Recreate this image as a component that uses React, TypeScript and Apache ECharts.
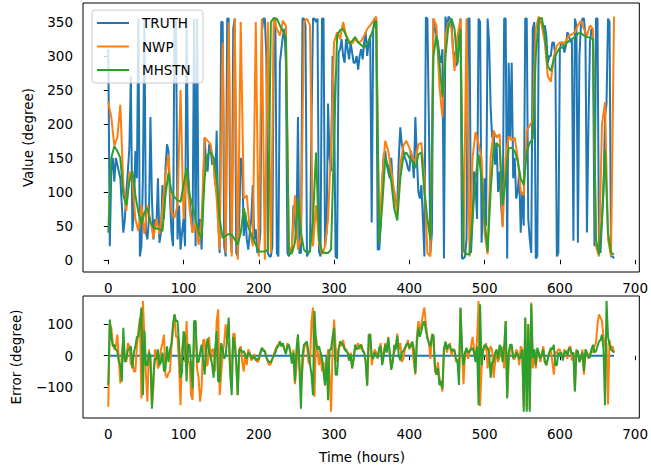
import React, { useEffect, useRef } from "react";
import * as echarts from "echarts";

// time grids (hours)
const hours2 = Array.from({ length: 337 }, (_, i) => i * 2); // truth and errors
const hours4 = Array.from({ length: 169 }, (_, i) => i * 4); // forecasts

const truth = [
  310, 20, 130, 150, 115, 150, 140, 130, 120, 80, 40, 60, 100, 130, 165, 270, 42, 70, 160, 120,
  355, 5, 20, 120, 355, 40, 30, 60, 210, 90, 30, 60, 50, 120, 25, 40, 110, 60, 135, 170,
  160, 90, 40, 20, 355, 350, 30, 80, 15, 40, 60, 20, 355, 130, 90, 60, 40, 355, 20, 355,
  30, 60, 15, 100, 180, 140, 130, 170, 165, 140, 150, 110, 190, 60, 10, 350, 350, 20, 5, 355,
  355, 40, 10, 340, 355, 10, 5, 60, 150, 140, 35, 70, 30, 15, 40, 60, 110, 30, 45, 10,
  15, 40, 334, 355, 355, 300, 10, 5, 5, 20, 350, 355, 10, 5, 290, 310, 330, 340, 290, 10,
  5, 15, 12, 80, 55, 30, 210, 10, 10, 355, 355, 345, 5, 10, 15, 200, 355, 355, 350, 355,
  12, 5, 355, 355, 20, 40, 230, 150, 130, 300, 240, 5, 2, 305, 310, 325, 300, 290, 325, 310,
  295, 320, 305, 290, 290, 300, 280, 300, 310, 295, 320, 335, 300, 320, 330, 55, 340, 355, 355, 15,
  15, 50, 115, 155, 160, 140, 130, 120, 150, 110, 100, 80, 85, 150, 195, 170, 160, 150, 145, 135,
  130, 160, 150, 120, 210, 150, 100, 90, 110, 60, 5, 357, 355, 200, 10, 40, 355, 340, 330, 320,
  300, 290, 310, 2, 358, 340, 358, 355, 350, 310, 300, 285, 290, 330, 355, 2, 2, 5, 30, 355,
  355, 10, 60, 130, 110, 60, 355, 350, 25, 80, 120, 50, 355, 320, 226, 180, 190, 140, 170, 100,
  130, 80, 50, 355, 355, 2, 290, 180, 290, 120, 150, 90, 100, 130, 40, 100, 50, 355, 355, 60,
  30, 10, 340, 350, 2, 5, 355, 350, 350, 340, 345, 330, 290, 300, 300, 320, 320, 300, 5, 10,
  310, 320, 320, 305, 315, 335, 330, 320, 325, 28, 355, 345, 25, 300, 345, 355, 355, 330, 40, 200,
  320, 340, 330, 20, 355, 355, 20, 10, 60, 100, 210, 230, 355, 350, 5, 5, 2,
];

const nwp = [
  232, 210, 168, 180, 228, 110, 72, 130, 120, 60,
  42, 80, 38, 80, 58, 32, 60, 38, 75, 125,
  155, 70, 62, 80, 250, 60, 130, 75, 40, 55,
  22, 60, 180, 175, 170, 140, 90, 15, 320, 10,
  350, 5, 355, 0, 350, 90, 95, 45, 20, 350,
  5, 355, 0, 350, 10, 355, 340, 330, 352, 345,
  10, 20, 95, 15, 30, 350, 355, 345, 20, 80,
  25, 8, 20, 60, 165, 320, 335, 325, 350, 330,
  322, 318, 325, 320, 322, 330, 340, 345, 352, 358,
  30, 120, 175, 160, 130, 100, 66, 140, 168, 175,
  165, 150, 145, 170, 172, 120, 10, 5, 355, 345,
  255, 210, 330, 350, 340, 278, 330, 355, 10, 355,
  5, 150, 188, 170, 150, 40, 8, 150, 190, 180,
  185, 48, 150, 182, 176, 180, 150, 100, 95, 190,
  198, 205, 340, 358, 345, 320, 270, 262, 300, 315,
  320, 318, 322, 330, 332, 335, 345, 352, 340, 330,
  345, 340, 20, 5, 200, 232, 30, 5, 358,
];

const mhstn = [
  40, 150, 167, 160, 150, 95, 80, 115, 130, 95,
  70, 52, 70, 76, 55, 48, 46, 45, 42, 95,
  128, 100, 92, 88, 85, 110, 135, 95, 80, 60,
  40, 32, 120, 155, 158, 150, 120, 60, 32, 35,
  38, 37, 30, 22, 40, 76, 55, 42, 32, 22,
  12, 12, 12, 15, 350, 356, 355, 345, 337, 328,
  8, 10, 25, 90, 40, 15, 10, 12, 60, 158,
  30, 12, 10, 10, 15, 175, 330, 338, 340, 330,
  318, 322, 328, 320, 316, 312, 318, 327, 340, 352,
  25, 80, 150, 138, 115, 75, 58, 120, 152, 158,
  150, 145, 135, 155, 158, 100, 60, 30, 300, 330,
  290, 240, 300, 345, 355, 340, 290, 340, 15, 8,
  8, 60, 120, 155, 120, 60, 12, 100, 165, 172,
  166, 80, 120, 164, 165, 160, 145, 120, 110, 160,
  172, 178, 300, 355, 356, 330, 285, 278, 295, 305,
  312, 312, 318, 322, 325, 328, 333, 334, 330, 328,
  327, 325, 30, 8, 60, 162, 40, 10, 8,
];

const errNwp = [
  -162, 100, 89, 40, 20, 30, 67, -10, -88, 10, 50, -10, -20, 40, 30, -30, -10, -50, -50, 30,
  78, 120, -136, 174, 60, -60, -146, 20, -20, -157, -100, 20, 10, -40, -30, 20, 40, 67, -60, -70,
  -55, -50, 30, 80, 131, 60, 60, -30, -157, 20, 60, -20, 110, -20, -20, -125, -140, 50, 110, -40,
  -70, -146, -100, 50, 50, -30, -30, 60, -15, 20, 20, -50, 110, 147, -125, -60, 10, 40, 100, 40,
  40, -50, -50, 70, 70, -30, -125, 20, 30, -20, -50, 10, -30, 20, 10, -15, -5, 5, -10, -20,
  -15, 5, 25, 20, 15, -5, -20, -30, -25, -10, 5, 20, 30, 35, 45, 30, 35, 20, 10, 40,
  30, 10, -20, 20, -90, -40, 60, -20, -100, -40, 20, 40, 35, -20, -30, 110, 153, -130, 60, 20,
  -30, 10, -50, -20, -95, -40, 20, -60, -178, 20, 115, 30, -20, 20, 40, 30, 50, 25, 20, 10,
  -15, 10, -40, -10, 25, 30, 40, 20, 35, 20, 10, -20, -95, 30, 70, -30, 0, 20, 10, -10,
  20, 40, -20, 10, 40, 20, 60, 0, -40, -10, 10, 30, 70, 20, 40, -20, -10, 20, 30, 50,
  20, 40, 30, -20, -60, 60, 110, 80, 100, 130, 153, 100, 60, 40, -10, 70, 60, -50, -60, -20,
  -70, -90, -114, 20, 40, 10, 30, 40, 0, 20, 20, -20, -10, -60, 150, 20, -90, 10, 20, -10,
  10, 30, 60, 20, -10, 50, 174, -160, -40, 20, 20, 40, -40, 10, 30, 20, -70, -20, 10, -20,
  0, 30, 20, -40, 110, -130, -20, 30, 30, -10, -10, 20, 10, -30, 30, 20, -160, 120, -170, 100,
  -170, 169, -40, 20, -40, 10, 10, -20, 5, 30, -20, -30, -10, 10, 20, -20, -60, 10, 10, 20,
  20, 0, -5, 20, 10, -10, 25, 30, -15, 10, -110, 20, 10, -20, -10, 20, -60, 10, 10, -10,
  5, 20, 10, 30, 40, 100, 131, 120, 110, 60, 30, 40, -155, 50, 20, 30, 10,
];

const errMhstn = [
  -93, 115, 60, 30, 35, 20, 15, -20, -30, -82, 89, -20, -10, 20, 20, 30, -40, 10, 30, 60,
  60, 100, 153, -125, 80, -30, -30, 10, 0, -168, -60, -10, -10, 20, -30, -20, 10, -50, -40, 30,
  -20, 20, 40, 100, 131, 110, 110, 40, -70, -50, 78, 60, -82, 35, 35, -30, -104, 110, 110, -20,
  -20, 10, 35, -10, -60, 20, 55, 10, 0, -30, -70, 20, 78, -82, -82, 40, 20, -10, 0, 60,
  121, -60, -125, 60, 35, -20, -125, 20, 20, 10, 15, 0, -10, 10, 5, -5, -10, 0, -15, -10,
  -10, 10, 25, 15, 15, -5, -15, -20, -20, -10, 0, 10, 25, 30, 46, 30, 40, 20, 5, 30,
  35, 10, -25, 10, -82, 20, 68, -40, -168, 0, 35, 40, 45, 10, -25, -60, -125, 142, 40, 20,
  30, 10, -10, -50, -93, 0, -141, 20, 20, 60, 89, -60, -60, 20, 45, 40, 35, 20, 15, 10,
  -15, 5, -40, -10, 35, 20, 25, 30, 35, 15, 10, -20, -95, 67, 67, 0, -10, 10, 0, -5,
  25, 30, -30, 0, 35, 10, 57, 10, -45, -20, 35, 20, 62, 0, -15, 10, 15, 25, 35, 40,
  25, 30, 45, 20, -55, 40, 89, 60, 78, 100, 110, 80, 55, 40, 30, 60, 67, -30, -60, -40,
  -93, -80, -104, 20, 45, 20, 35, 30, 15, 20, 15, -10, -20, -93, 153, 20, -30, 10, 25, 10,
  15, 20, 25, 10, -20, 30, -157, 163, -30, 20, 35, 30, 25, 10, -70, -20, -20, 10, 20, -10,
  35, 20, -20, 30, 110, -136, 10, 35, 35, -5, -5, 10, 5, -10, -5, 20, -178, 121, -178, 100,
  -178, 163, -7, 20, -30, 25, 10, -10, 5, 20, -18, -30, -10, 10, 25, 20, 35, -30, -30, 10,
  5, 10, -15, 10, 15, 0, 25, 20, 5, 10, -114, 15, 15, -20, -5, 10, -50, 20, 10, -5,
  -5, 20, 35, 10, 15, 30, 45, 50, 67, 20, -157, 174, 60, 35, 20, 15, 10,
];

// the truth compared with itself
const errTruth = hours4.map(() => 0);

const xTicks = [0, 100, 200, 300, 400, 500, 600, 700];
const valueTicks = [0, 50, 100, 150, 200, 250, 300, 350];
const errorTicks = [-100, 0, 100];

const seriesNames = ["TRUTH", "NWP", "MHSTN"];
const colors = ["#1f77b4", "#ff7f0e", "#2ca02c"];

const FONT = "DejaVu Sans";
const FS = 13.5;

export default function App() {
  const ref = useRef<HTMLDivElement>(null);

  useEffect(() => {
    const chart = echarts.init(ref.current!, null, { renderer: "svg" });
    const pair = (xs: number[], ys: number[]) => xs.map((h, i) => [h, ys[i]]);
    const minus = (v: number) => String(v).replace("-", "\u2212");

    const xAxisBase = (gridIndex: number) => ({
      type: "value",
      gridIndex,
      min: -33.6,
      max: 705.6,
      axisLine: { show: false },
      splitLine: { show: false },
      axisTick: {
        show: true,
        customValues: xTicks,
        length: 4.5,
        lineStyle: { color: "#000", width: 1 },
      },
      axisLabel: {
        customValues: xTicks,
        margin: 9,
        color: "#000",
        fontSize: FS,
        fontFamily: FONT,
      },
    });

    const yAxisBase = (gridIndex: number, min: number, max: number, ticks: number[]) => ({
      type: "value",
      gridIndex,
      min,
      max,
      axisLine: { show: false },
      splitLine: { show: false },
      axisTick: {
        show: true,
        customValues: ticks,
        length: 4.5,
        lineStyle: { color: "#000", width: 1 },
      },
      axisLabel: {
        customValues: ticks,
        margin: 10,
        color: "#000",
        fontSize: FS,
        fontFamily: FONT,
        formatter: (v: number) => minus(v),
      },
    });

    const lineSeries = (name: string, color: string, xs: number[], ys: number[], idx: number) => ({
      type: "line",
      name,
      xAxisIndex: idx,
      yAxisIndex: idx,
      data: pair(xs, ys),
      showSymbol: false,
      symbol: "none",
      lineStyle: { color, width: 2 },
      itemStyle: { color },
      emphasis: { disabled: true },
    });

    const legendRows = [23, 46.5, 70];
    const legendGraphics: any[] = [
      {
        type: "rect",
        z: 100,
        shape: { x: 92, y: 10, width: 111, height: 73, r: 3 },
        style: { fill: "rgba(255,255,255,0.8)", stroke: "#cccccc", lineWidth: 1 },
      },
    ];
    seriesNames.forEach((n, i) => {
      legendGraphics.push({
        type: "line",
        z: 101,
        shape: { x1: 97, y1: legendRows[i], x2: 129, y2: legendRows[i] },
        style: { stroke: colors[i], lineWidth: 2 },
      });
      legendGraphics.push({
        type: "text",
        z: 101,
        x: 142,
        y: legendRows[i],
        style: {
          text: n,
          fill: "#000",
          fontSize: FS,
          fontFamily: FONT,
          align: "left",
          verticalAlign: "middle",
          textAlign: "left",
          textVerticalAlign: "middle",
        },
      });
    });

    const axisTitle = (text: string, x: number, y: number, rotation: number) => ({
      type: "text",
      x,
      y,
      rotation,
      style: {
        text,
        fill: "#000",
        fontSize: FS,
        fontFamily: FONT,
        align: "center",
        verticalAlign: "middle",
        textAlign: "center",
        textVerticalAlign: "middle",
      },
    });

    chart.setOption({
      animation: false,
      backgroundColor: "#fff",
      grid: [
        { left: 83, top: 3, width: 558, height: 269, show: true, borderColor: "#000", borderWidth: 1, backgroundColor: "transparent" },
        { left: 83, top: 296, width: 558, height: 122, show: true, borderColor: "#000", borderWidth: 1, backgroundColor: "transparent" },
      ],
      xAxis: [xAxisBase(0), xAxisBase(1)],
      yAxis: [
        yAxisBase(0, -18, 378, valueTicks),
        yAxisBase(1, -197.6, 189.6, errorTicks),
      ],
      series: [
        lineSeries(seriesNames[0], colors[0], hours2, truth, 0),
        lineSeries(seriesNames[1], colors[1], hours4, nwp, 0),
        lineSeries(seriesNames[2], colors[2], hours4, mhstn, 0),
        lineSeries(seriesNames[0], colors[0], hours4, errTruth, 1),
        lineSeries(seriesNames[1], colors[1], hours2, errNwp, 1),
        lineSeries(seriesNames[2], colors[2], hours2, errMhstn, 1),
      ],
      graphic: [
        ...legendGraphics,
        axisTitle("Value (degree)", 28, 137.5, Math.PI / 2),
        axisTitle("Error (degree)", 16, 357, Math.PI / 2),
        axisTitle("Time (hours)", 362, 457, 0),
      ],
    });

    return () => chart.dispose();
  }, []);

  return (
    <div
      ref={ref}
      style={{ position: "fixed", left: 0, top: 0, width: 651, height: 471, background: "#fff" }}
    />
  );
}
